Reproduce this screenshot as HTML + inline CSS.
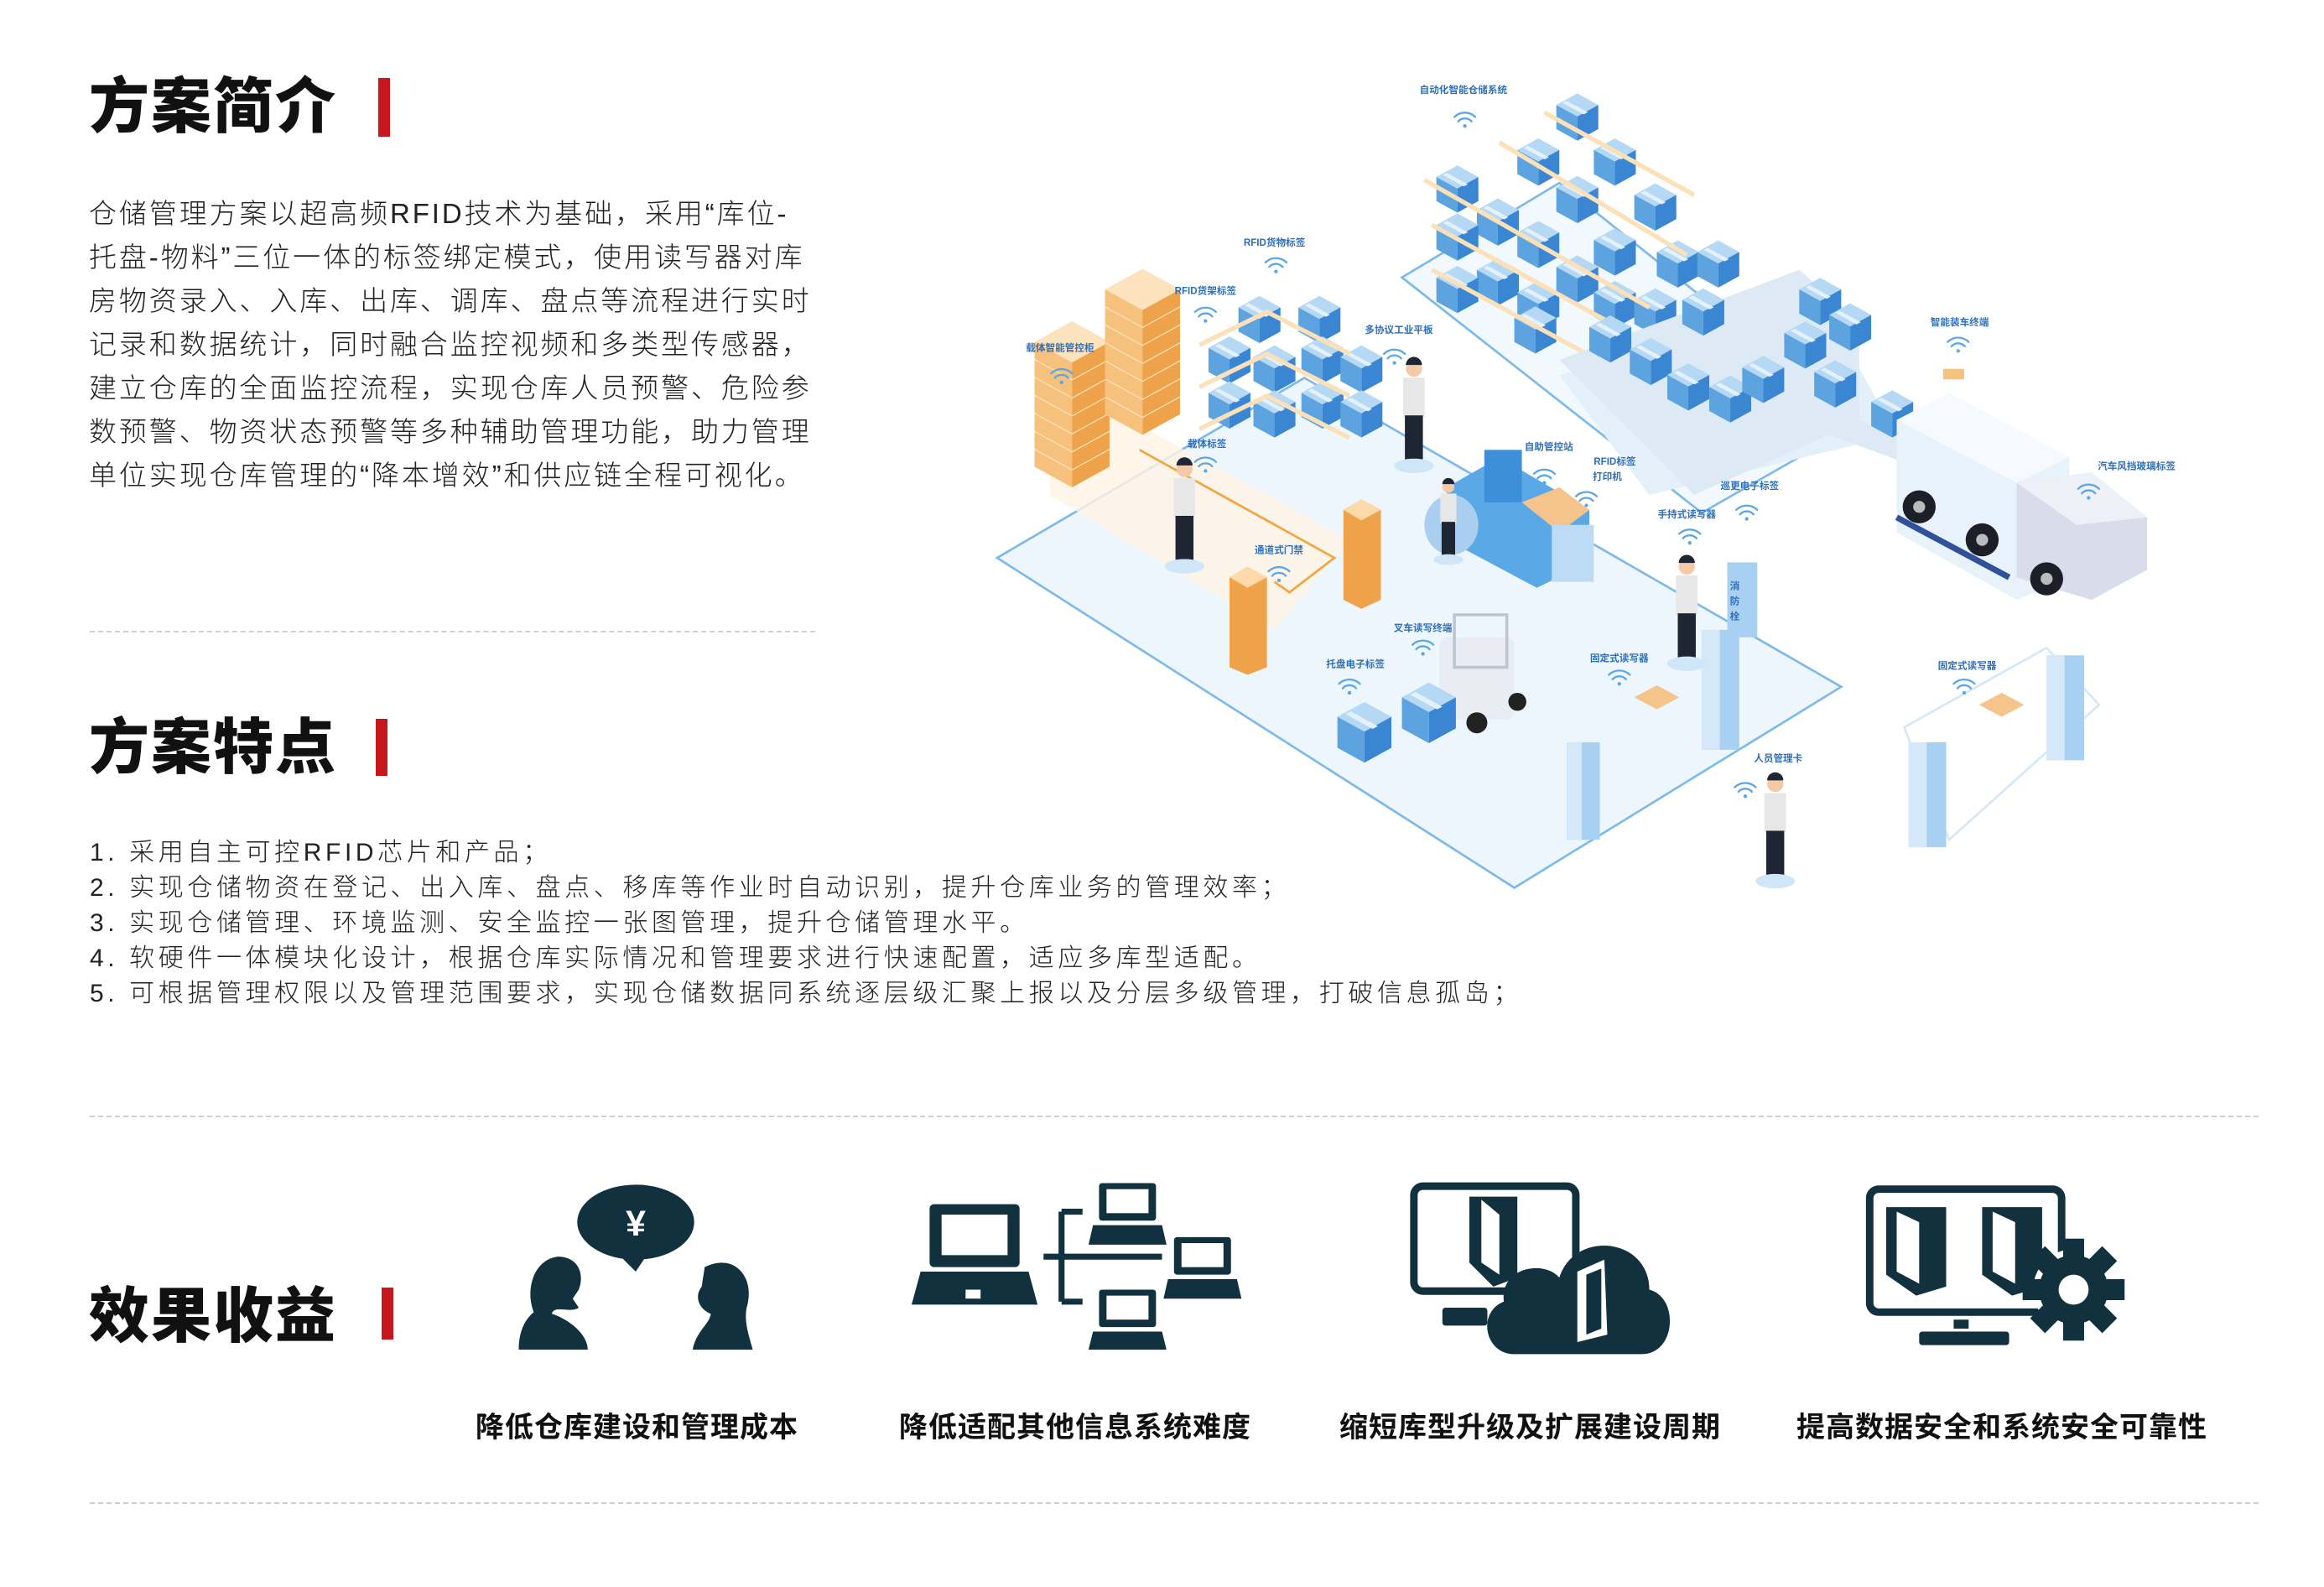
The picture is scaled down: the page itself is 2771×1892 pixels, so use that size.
<!DOCTYPE html>
<html><head><meta charset="utf-8"><style>
html,body{margin:0;padding:0;background:#fff;}
body{width:2771px;height:1892px;position:relative;overflow:hidden;font-family:"Liberation Sans","Noto Sans CJK SC",sans-serif;color:#1a1a1a;}
.t{position:absolute;white-space:nowrap;}
.h{font-size:72px;font-weight:900;letter-spacing:2px;line-height:1;color:#111;}
.bar{position:absolute;width:14px;background:#c8161d;}
.p{font-size:33px;letter-spacing:2.9px;line-height:52px;font-weight:300;color:#222;}
.l{font-size:30px;letter-spacing:4.6px;font-weight:300;color:#222;line-height:42px;}
.lab{font-size:34px;font-weight:700;color:#111;letter-spacing:1px;}
.dash{position:absolute;height:0;border-top:2px dashed #cfcfcf;}
svg{position:absolute;left:0;top:0;}
</style></head><body>
<svg width="2771" height="1892" viewBox="0 0 1550 1058.3" preserveAspectRatio="none">
<defs>
<g id="bc"><polygon points="0,0 10,-5.5 20,0 10,5.5" fill="#b5d8f5"/><polygon points="0,0 10,5.5 10,17 0,11.5" fill="#5da3e0"/><polygon points="10,5.5 20,0 20,11.5 10,17" fill="#3a86d2"/><polygon points="3,-1 5,-2 15,3.5 13,4.5" fill="#e3f1fc"/></g>
<g id="oc"><polygon points="0,0 10,-5.5 20,0 10,5.5" fill="#fde3bd"/><polygon points="0,0 10,5.5 10,10 0,4.5" fill="#f6c17c"/><polygon points="10,5.5 20,0 20,4.5 10,10" fill="#eea24a"/></g>
<g id="wf" fill="none" stroke="#5aa6e6" stroke-width="1.3" stroke-linecap="round"><path d="M-7,-2 A10,10 0 0 1 7,-2"/><path d="M-4.5,1 A6,6 0 0 1 4.5,1"/><circle cx="0" cy="4" r="1.2" fill="#5aa6e6" stroke="none"/></g>
<g id="pl"><rect x="-6" y="-1" width="12" height="22" fill="#e7e7e7"/><rect x="-5" y="20" width="10" height="26" fill="#1f2633"/><circle cx="0" cy="-6" r="4.5" fill="#f3c9a8"/><path d="M-4.5,-8 a4.5,4.5 0 0 1 9,0z" fill="#1f2633"/><ellipse cx="0" cy="48" rx="11" ry="4" fill="#cfe5f8"/></g>
</defs>
<polygon points="665,372 870,252 1228,458 1010,592" fill="#eef6fd" stroke="#7db9ea" stroke-width="1.5"/>
<polygon points="935,185 1040,122 1240,282 1135,342" fill="#f1f8fe" stroke="#7db9ea" stroke-width="1.5"/>
<polygon points="1040,250 1220,210 1265,290 1100,330" fill="#e3eff9"/>
<polygon points="1270,485 1365,432 1400,470 1300,560" fill="none" stroke="#d6e8f7" stroke-width="1.5"/>
<polygon points="700,250 790,300 900,360 850,420 700,330" fill="#fff4e4" opacity=".8"/>
<polyline points="760,300 890,372 860,395 850,388" fill="none" stroke="#f0a640" stroke-width="1.5"/>
<g>
<use href="#oc" transform="translate(690,300) scale(2.5)"/><use href="#oc" transform="translate(690,288) scale(2.5)"/><use href="#oc" transform="translate(690,276) scale(2.5)"/><use href="#oc" transform="translate(690,264) scale(2.5)"/><use href="#oc" transform="translate(690,252) scale(2.5)"/><use href="#oc" transform="translate(690,240) scale(2.5)"/><use href="#oc" transform="translate(690,228) scale(2.5)"/>
<use href="#oc" transform="translate(737,265) scale(2.5)"/><use href="#oc" transform="translate(737,253) scale(2.5)"/><use href="#oc" transform="translate(737,241) scale(2.5)"/><use href="#oc" transform="translate(737,229) scale(2.5)"/><use href="#oc" transform="translate(737,217) scale(2.5)"/><use href="#oc" transform="translate(737,205) scale(2.5)"/><use href="#oc" transform="translate(737,193) scale(2.5)"/>
</g>
<polygon points="820,385 832,378 845,385 845,445 832,450 820,445" fill="#eea24a"/><polygon points="820,385 832,378 845,385 832,392" fill="#fbd9a8"/>
<polygon points="896,340 908,333 921,340 921,400 908,406 896,400" fill="#eea24a"/><polygon points="896,340 908,333 921,340 908,347" fill="#fbd9a8"/>
<g>
<use href="#bc" transform="translate(826,205) scale(1.4)"/><use href="#bc" transform="translate(866,205) scale(1.4)"/>
<use href="#bc" transform="translate(806,232) scale(1.4)"/><use href="#bc" transform="translate(836,238) scale(1.4)"/><use href="#bc" transform="translate(868,232) scale(1.4)"/><use href="#bc" transform="translate(894,238) scale(1.4)"/>
<use href="#bc" transform="translate(806,262) scale(1.4)"/><use href="#bc" transform="translate(836,268) scale(1.4)"/><use href="#bc" transform="translate(868,262) scale(1.4)"/><use href="#bc" transform="translate(894,268) scale(1.4)"/>
<path d="M800,230 L845,208 L900,236 M800,258 L845,236 L900,264 M800,286 L845,264 L900,292" stroke="#fbe0b8" stroke-width="3" fill="none"/>
</g>
<g>
<use href="#bc" transform="translate(1038,70) scale(1.4)"/><use href="#bc" transform="translate(1012,100) scale(1.4)"/><use href="#bc" transform="translate(1063,100) scale(1.4)"/><use href="#bc" transform="translate(958,118) scale(1.4)"/><use href="#bc" transform="translate(1038,125) scale(1.4)"/><use href="#bc" transform="translate(1090,130) scale(1.4)"/>
<use href="#bc" transform="translate(985,140) scale(1.4)"/><use href="#bc" transform="translate(1012,155) scale(1.4)"/><use href="#bc" transform="translate(1063,160) scale(1.4)"/><use href="#bc" transform="translate(958,150) scale(1.4)"/><use href="#bc" transform="translate(1038,178) scale(1.4)"/><use href="#bc" transform="translate(1105,168) scale(1.4)"/>
<use href="#bc" transform="translate(985,180) scale(1.4)"/><use href="#bc" transform="translate(958,185) scale(1.4)"/><use href="#bc" transform="translate(1012,195) scale(1.4)"/><use href="#bc" transform="translate(1063,195) scale(1.4)"/><use href="#bc" transform="translate(1090,200) scale(1.4)"/><use href="#bc" transform="translate(1010,212) scale(1.4)"/>
<path d="M950,120 L1100,205 M955,150 L1110,235 M955,180 L1075,245 M1000,95 L1125,170 M1030,75 L1130,130" stroke="#fbe0b8" stroke-width="3" fill="none"/>
</g>
<polygon points="1040,240 1200,180 1240,215 1240,280 1290,300 1280,312 1220,290 1130,330" fill="#ddeaf6"/>
<g>
<use href="#bc" transform="translate(1132,168) scale(1.4)"/><use href="#bc" transform="translate(1200,193) scale(1.4)"/><use href="#bc" transform="translate(1220,210) scale(1.4)"/><use href="#bc" transform="translate(1122,200) scale(1.4)"/>
<use href="#bc" transform="translate(1060,218) scale(1.4)"/><use href="#bc" transform="translate(1087,233) scale(1.4)"/><use href="#bc" transform="translate(1112,250) scale(1.4)"/><use href="#bc" transform="translate(1140,258) scale(1.4)"/><use href="#bc" transform="translate(1162,245) scale(1.4)"/>
<use href="#bc" transform="translate(1190,222) scale(1.4)"/><use href="#bc" transform="translate(1210,248) scale(1.4)"/><use href="#bc" transform="translate(1248,268) scale(1.4)"/>
</g>
<polygon points="1265,280 1300,262 1380,305 1380,385 1345,400 1265,355" fill="#e8f2fb"/>
<polygon points="1265,280 1300,262 1380,305 1345,322" fill="#f6fafe"/>
<polygon points="1345,322 1395,315 1432,345 1432,380 1395,400 1345,385" fill="#d9dcea"/>
<polygon points="1345,322 1395,315 1432,345 1385,350" fill="#eef0f7"/>
<polyline points="1265,345 1340,385" stroke="#31509a" stroke-width="4"/>
<circle cx="1280" cy="338" r="11" fill="#1c1f27"/><circle cx="1280" cy="338" r="4" fill="#bbb"/>
<circle cx="1322" cy="360" r="11" fill="#1c1f27"/><circle cx="1322" cy="360" r="4" fill="#bbb"/>
<circle cx="1365" cy="386" r="11" fill="#1c1f27"/><circle cx="1365" cy="386" r="4" fill="#bbb"/>
<rect x="1296" y="246" width="14" height="7" fill="#f6c17c"/>
<polygon points="965,325 1000,305 1060,340 1060,375 1025,392 965,360" fill="#5aa8e6"/>
<rect x="990" y="300" width="25" height="35" fill="#3d8fd8"/>
<polygon points="1015,335 1040,325 1060,340 1040,355" fill="#f4c48a"/>
<rect x="1035" y="350" width="28" height="38" fill="#bcdcf6"/>
<ellipse cx="968" cy="350" rx="18" ry="20" fill="#a9cef0"/>
<rect x="960" y="425" width="50" height="55" rx="6" fill="#e9ecf2"/><rect x="970" y="410" width="35" height="35" fill="none" stroke="#bfc5d0" stroke-width="2"/>
<circle cx="985" cy="482" r="7" fill="#222"/><circle cx="1012" cy="468" r="6" fill="#222"/>
<use href="#bc" transform="translate(892,478) scale(1.8)"/><use href="#bc" transform="translate(935,465) scale(1.8)"/>
<g fill="#a8d0f2"><rect x="1045" y="495" width="22" height="65"/><rect x="1135" y="420" width="25" height="80"/><rect x="1273" y="495" width="25" height="70"/><rect x="1365" y="437" width="25" height="70"/><rect x="1152" y="375" width="20" height="50"/></g>
<g fill="#d4e8f9"><rect x="1045" y="495" width="10" height="65"/><rect x="1135" y="420" width="12" height="80"/><rect x="1273" y="495" width="12" height="70"/><rect x="1365" y="437" width="12" height="70"/></g>
<polygon points="1090,465 1105,457 1120,465 1105,473" fill="#f4c48a"/><polygon points="1320,470 1335,462 1350,470 1335,478" fill="#f4c48a"/>
<use href="#pl" transform="translate(790,320) scale(1.2)"/><use href="#pl" transform="translate(943,253) scale(1.2)"/><use href="#pl" transform="translate(1125,385) scale(1.2)"/><use href="#pl" transform="translate(1184,530) scale(1.2)"/><use href="#pl" transform="translate(966,330) scale(0.9)"/>
<g>
<use href="#wf" x="977" y="80"/><use href="#wf" x="851" y="177"/><use href="#wf" x="804" y="210"/><use href="#wf" x="708" y="251"/><use href="#wf" x="930" y="238"/><use href="#wf" x="804" y="310"/><use href="#wf" x="1030" y="318"/><use href="#wf" x="1058" y="333"/><use href="#wf" x="1165" y="342"/><use href="#wf" x="1127" y="358"/><use href="#wf" x="1306" y="230"/><use href="#wf" x="1393" y="328"/><use href="#wf" x="853" y="383"/><use href="#wf" x="949" y="432"/><use href="#wf" x="900" y="458"/><use href="#wf" x="1080" y="452"/><use href="#wf" x="1310" y="458"/><use href="#wf" x="1164" y="527"/>
</g>
<g font-family="Liberation Sans,Noto Sans CJK SC,sans-serif" font-size="6.5" fill="#2e6fb8" text-anchor="middle" font-weight="bold">
<text x="976" y="62">自动化智能仓储系统</text><text x="850" y="164">RFID货物标签</text><text x="804" y="196">RFID货架标签</text><text x="707" y="234">载体智能管控柜</text><text x="933" y="222">多协议工业平板</text><text x="805" y="298">载体标签</text><text x="1033" y="300">自助管控站</text><text x="1077" y="310">RFID标签</text><text x="1072" y="320">打印机</text><text x="1167" y="326">巡更电子标签</text><text x="1125" y="345">手持式读写器</text><text x="1307" y="217">智能装车终端</text><text x="1425" y="313">汽车风挡玻璃标签</text><text x="853" y="369">通道式门禁</text><text x="949" y="421">叉车读写终端</text><text x="904" y="445">托盘电子标签</text><text x="1080" y="441">固定式读写器</text><text x="1312" y="446">固定式读写器</text><text x="1186" y="508">人员管理卡</text>
<text x="1157" y="393">消</text><text x="1157" y="403">防</text><text x="1157" y="413">栓</text>
</g>
<g fill="#12313f">
<ellipse cx="424" cy="815" rx="39" ry="25"/><polygon points="412,836 424,848 432,836"/>
<text x="424" y="824" font-size="24" fill="#fff" text-anchor="middle" font-weight="bold" font-family="Liberation Sans,sans-serif">¥</text>
<path d="M356,875 C350,860 356,840 372,838 C386,838 390,850 386,860 L382,866 L386,872 C380,876 370,870 368,876 C380,880 392,890 392,900 L346,900 C346,888 350,880 356,875Z"/>
<path d="M470,845 C490,835 504,852 498,872 C496,882 500,892 502,900 L462,900 C464,888 474,882 474,876 C468,874 462,866 468,858Z"/>
<rect x="620" y="803" width="60" height="42" rx="3"/><rect x="628" y="810" width="44" height="27" fill="#fff"/><polygon points="614,848 686,848 692,870 608,870"/><rect x="644" y="860" width="10" height="6" fill="#fff"/>
<path d="M696,838 H775 M708,808 V868 M708,808 H722 M708,868 H722 M760,838 V840" stroke="#12313f" stroke-width="4" fill="none"/>
<rect x="733" y="789" width="38" height="25" rx="2"/><rect x="738" y="793" width="28" height="16" fill="#fff"/><polygon points="729,817 775,817 778,830 726,830"/>
<rect x="783" y="825" width="38" height="25" rx="2"/><rect x="788" y="829" width="28" height="16" fill="#fff"/><polygon points="779,853 825,853 828,866 776,866"/>
<rect x="733" y="860" width="38" height="25" rx="2"/><rect x="738" y="864" width="28" height="16" fill="#fff"/><polygon points="729,888 775,888 778,900 726,900"/>
<rect x="943" y="791" width="108" height="70" rx="6" fill="none" stroke="#12313f" stroke-width="5"/>
<polygon points="980,798 1012,798 1012,852 996,858 980,842"/><polygon points="988,800 1000,810 1000,850 988,842" fill="#fff"/>
<rect x="962" y="872" width="30" height="12" rx="2"/>
<path d="M1010,903 C990,903 985,875 1003,868 C1000,845 1030,840 1040,852 C1050,820 1100,825 1100,860 C1120,865 1118,903 1095,903Z"/>
<polygon points="1052,848 1070,840 1072,890 1052,895" fill="#fff"/><polygon points="1058,850 1068,846 1068,886 1058,890"/>
<rect x="1247" y="793" width="128" height="82" rx="6" fill="none" stroke="#12313f" stroke-width="5"/>
<polygon points="1258,805 1298,805 1298,858 1278,864 1258,850"/><polygon points="1265,808 1280,815 1280,856 1265,848" fill="#fff"/>
<polygon points="1322,805 1362,805 1362,858 1342,864 1322,850"/><polygon points="1329,808 1344,815 1344,856 1329,848" fill="#fff"/>
<rect x="1303" y="880" width="10" height="6"/><rect x="1280" y="888" width="60" height="9" rx="2"/>
<circle cx="1383" cy="860" r="27" fill="#fff"/>
<g transform="translate(1383,860)"><circle r="23"/><g><rect x="-7" y="-34" width="14" height="14"/><rect x="-7" y="20" width="14" height="14"/><rect x="-34" y="-7" width="14" height="14"/><rect x="20" y="-7" width="14" height="14"/></g><g transform="rotate(45)"><rect x="-7" y="-34" width="14" height="14"/><rect x="-7" y="20" width="14" height="14"/><rect x="-34" y="-7" width="14" height="14"/><rect x="20" y="-7" width="14" height="14"/></g><circle r="10" fill="#fff"/></g>
</g>
</svg>

<div class="t h" style="left:106px;top:92px;">方案简介</div>
<div class="bar" style="left:451px;top:93px;height:70px;"></div>
<div class="t p" style="left:106px;top:229px;">仓储管理方案以超高频RFID技术为基础，采用“库位-<br>托盘-物料”三位一体的标签绑定模式，使用读写器对库<br>房物资录入、入库、出库、调库、盘点等流程进行实时<br>记录和数据统计，同时融合监控视频和多类型传感器，<br>建立仓库的全面监控流程，实现仓库人员预警、危险参<br>数预警、物资状态预警等多种辅助管理功能，助力管理<br>单位实现仓库管理的“降本增效”和供应链全程可视化。</div>
<div class="dash" style="left:107px;top:752px;width:865px;"></div>

<div class="t h" style="left:106px;top:856px;">方案特点</div>
<div class="bar" style="left:448px;top:857px;height:68px;"></div>
<div class="t l" style="left:107px;top:996px;">1. 采用自主可控RFID芯片和产品；<br>2. 实现仓储物资在登记、出入库、盘点、移库等作业时自动识别，提升仓库业务的管理效率；<br>3. 实现仓储管理、环境监测、安全监控一张图管理，提升仓储管理水平。<br>4. 软硬件一体模块化设计，根据仓库实际情况和管理要求进行快速配置，适应多库型适配。<br>5. 可根据管理权限以及管理范围要求，实现仓储数据同系统逐层级汇聚上报以及分层多级管理，打破信息孤岛；</div>
<div class="dash" style="left:107px;top:1330px;width:2586px;"></div>

<div class="t h" style="left:106px;top:1534px;">效果收益</div>
<div class="bar" style="left:455px;top:1535px;height:62px;"></div>
<div class="t lab" style="left:567px;top:1674px;">降低仓库建设和管理成本</div>
<div class="t lab" style="left:1072px;top:1674px;">降低适配其他信息系统难度</div>
<div class="t lab" style="left:1597px;top:1674px;">缩短库型升级及扩展建设周期</div>
<div class="t lab" style="left:2142px;top:1674px;">提高数据安全和系统安全可靠性</div>
<div class="dash" style="left:107px;top:1791px;width:2586px;"></div>
</body></html>
